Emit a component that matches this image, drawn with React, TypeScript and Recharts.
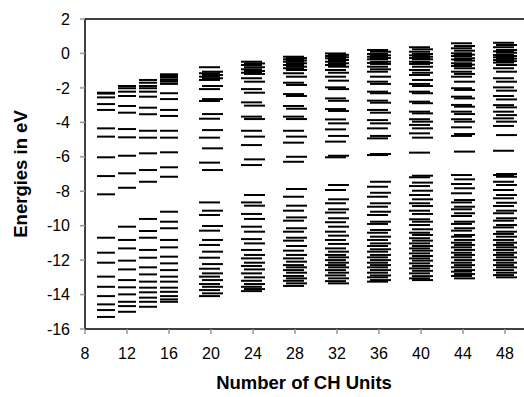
import { ScatterChart, Scatter, XAxis, YAxis, ReferenceLine, Label } from 'recharts';

// orbital energies (eV) per chain length
const levels10 = [-2.28, -2.33, -2.55, -2.94, -3.28, -4.35, -4.83, -6.03, -7.12, -8.18, -10.7, -11.57, -12.15, -12.96, -13.55, -14.09, -14.57, -14.9, -15.3];
const levels12 = [-1.89, -2.02, -2.22, -2.47, -3.05, -3.44, -4.39, -4.87, -5.94, -6.96, -7.8, -10.06, -10.83, -11.32, -12.03, -12.54, -13.16, -13.58, -13.99, -14.42, -14.67, -15.0];
const levels14 = [-1.54, -1.7, -1.89, -2.02, -2.22, -2.51, -3.15, -3.53, -4.49, -4.89, -5.8, -6.77, -7.45, -9.61, -10.31, -10.7, -11.41, -11.86, -12.42, -12.83, -13.25, -13.6, -13.87, -14.18, -14.42, -14.71];
const levels16 = [-1.21, -1.31, -1.41, -1.54, -1.64, -1.77, -2.31, -2.65, -3.28, -3.63, -4.49, -4.89, -5.74, -6.61, -7.16, -9.19, -9.77, -10.15, -10.83, -11.26, -11.8, -12.19, -12.58, -12.96, -13.25, -13.6, -13.84, -14.09, -14.28, -14.42];
const levels20 = [-0.8, -1.06, -1.15, -1.25, -1.35, -1.44, -1.54, -1.89, -2.07, -2.65, -2.76, -3.52, -3.79, -4.45, -4.89, -5.51, -6.34, -6.77, -8.65, -9.13, -9.38, -10.02, -10.29, -10.83, -11.12, -11.51, -11.86, -12.23, -12.5, -12.77, -12.96, -13.16, -13.39, -13.55, -13.74, -13.93, -14.09];
const levels24 = [-0.48, -0.58, -0.67, -0.8, -0.92, -1.02, -1.12, -1.19, -1.44, -1.64, -2.07, -2.28, -2.84, -3.03, -3.67, -3.81, -4.49, -4.83, -5.32, -6.15, -6.48, -8.22, -8.65, -8.84, -9.32, -9.61, -10.06, -10.35, -10.78, -11.03, -11.41, -11.7, -11.9, -12.15, -12.34, -12.54, -12.77, -13.0, -13.2, -13.39, -13.55, -13.68, -13.8];
const levels28 = [-0.19, -0.27, -0.34, -0.41, -0.48, -0.57, -0.67, -0.77, -0.86, -0.96, -1.15, -1.35, -1.7, -1.83, -2.36, -2.47, -3.05, -3.21, -3.67, -3.81, -4.49, -4.83, -5.18, -6.0, -6.29, -7.87, -8.32, -8.84, -9.13, -9.52, -9.71, -10.15, -10.35, -10.7, -10.87, -11.18, -11.45, -11.7, -11.9, -12.09, -12.29, -12.42, -12.58, -12.73, -12.92, -13.06, -13.2, -13.35, -13.5];
const levels32 = [0.0, -0.08, -0.15, -0.22, -0.28, -0.38, -0.48, -0.57, -0.67, -0.77, -0.96, -1.12, -1.35, -1.58, -1.97, -2.07, -2.61, -2.75, -3.23, -3.34, -3.83, -4.06, -4.41, -4.79, -5.12, -5.94, -6.03, -7.64, -7.93, -8.47, -8.7, -9.05, -9.24, -9.57, -9.8, -10.06, -10.35, -10.58, -10.83, -11.06, -11.32, -11.51, -11.7, -11.84, -12.0, -12.15, -12.29, -12.42, -12.58, -12.73, -12.89, -13.06, -13.22, -13.35];
const levels36 = [0.2, 0.1, -0.03, -0.11, -0.19, -0.27, -0.34, -0.48, -0.55, -0.61, -0.77, -0.92, -1.06, -1.35, -1.64, -1.77, -2.22, -2.31, -2.74, -2.86, -3.28, -3.44, -3.87, -4.06, -4.35, -4.79, -4.93, -5.84, -5.9, -7.45, -7.74, -8.09, -8.32, -8.7, -8.9, -9.19, -9.38, -9.77, -9.9, -10.25, -10.41, -10.64, -10.83, -11.03, -11.18, -11.37, -11.51, -11.7, -11.84, -12.0, -12.15, -12.29, -12.42, -12.58, -12.73, -12.89, -13.0, -13.16, -13.25];
const levels40 = [0.36, 0.24, 0.1, -0.03, -0.11, -0.19, -0.27, -0.34, -0.48, -0.55, -0.61, -0.77, -0.96, -1.12, -1.25, -1.54, -1.77, -1.89, -2.22, -2.31, -2.8, -2.89, -3.38, -3.48, -3.82, -3.96, -4.15, -4.35, -4.64, -4.89, -5.76, -7.1, -7.19, -7.5, -7.7, -7.97, -8.22, -8.47, -8.7, -8.86, -9.13, -9.32, -9.63, -9.77, -9.96, -10.21, -10.41, -10.54, -10.73, -10.87, -11.03, -11.18, -11.32, -11.45, -11.61, -11.76, -11.9, -12.03, -12.19, -12.34, -12.48, -12.62, -12.77, -12.93, -13.06, -13.16];
const levels44 = [0.59, 0.43, 0.3, 0.16, 0.01, -0.07, -0.15, -0.28, -0.35, -0.42, -0.57, -0.65, -0.73, -0.86, -1.06, -1.19, -1.35, -1.64, -2.02, -2.12, -2.51, -2.61, -2.99, -3.09, -3.38, -3.52, -3.82, -3.96, -4.29, -4.68, -4.79, -5.7, -7.06, -7.31, -7.58, -7.83, -8.12, -8.51, -8.65, -8.9, -9.05, -9.28, -9.44, -9.77, -9.9, -10.15, -10.29, -10.54, -10.64, -10.83, -10.99, -11.12, -11.26, -11.41, -11.57, -11.7, -11.84, -12.0, -12.15, -12.29, -12.42, -12.58, -12.67, -12.81, -12.92, -13.06];
const levels48 = [0.62, 0.49, 0.36, 0.2, 0.12, 0.04, -0.09, -0.15, -0.22, -0.3, -0.38, -0.45, -0.53, -0.67, -0.86, -1.06, -1.44, -1.64, -1.97, -2.16, -2.47, -2.67, -3.0, -3.13, -3.38, -3.58, -3.77, -3.96, -4.21, -4.74, -5.65, -7.0, -7.06, -7.16, -7.45, -7.64, -7.93, -8.22, -8.41, -8.67, -8.86, -9.13, -9.28, -9.57, -9.71, -9.96, -10.1, -10.35, -10.48, -10.64, -10.83, -10.99, -11.12, -11.26, -11.41, -11.57, -11.7, -11.84, -12.0, -12.15, -12.29, -12.42, -12.58, -12.73, -12.87, -13.0];

const chainLengths = [10, 12, 14, 16, 20, 24, 28, 32, 36, 40, 44, 48];
const allLevels = [levels10, levels12, levels14, levels16, levels20, levels24, levels28, levels32, levels36, levels40, levels44, levels48];

const xTicks = [8, 12, 16, 20, 24, 28, 32, 36, 40, 44, 48];
const yTicks = [-16, -14, -12, -10, -8, -6, -4, -2, 0, 2];

const points = chainLengths.flatMap((n, i) =>
  allLevels[i].map((e, j) => ({ n, e, k: j }))
);

const FONT = '"Liberation Sans", Arial, sans-serif';

function Dash(props: any) {
  const { cx, cy, payload } = props;
  const half = payload.n >= 20 ? 10.5 : 9;
  const shift = payload.n >= 20 ? (payload.k % 2 === 0 ? -1.5 : 1.5) : 0;
  return (
    <line x1={cx - half + shift} x2={cx + half + shift} y1={cy} y2={cy} stroke="#000" strokeWidth={2} />
  );
}

export default function App() {
  return (
    <div style={{ position: 'absolute', left: 0, top: 0, width: 524, height: 397, overflow: 'hidden', background: '#fff' }}>
      <ScatterChart width={552} height={397} margin={{ top: 19, right: 5, bottom: 0, left: 0 }}>
        <XAxis
          type="number"
          dataKey="n"
          domain={[8, 52]}
          ticks={xTicks}
          interval={0}
          height={68}
          tickSize={5}
          tickMargin={14}
          stroke="#000"
          strokeWidth={1.5}
          tickLine={{ stroke: '#999' }}
          tick={{ fill: '#000', fontSize: 16, fontFamily: FONT }}
        >
          <Label value="Number of CH Units" position="insideBottom" offset={8} dx={-12} style={{ fontSize: 18.5, fontWeight: 'bold', fontFamily: FONT, fill: '#000' }} />
        </XAxis>
        <YAxis
          type="number"
          dataKey="e"
          domain={[-16, 2]}
          ticks={yTicks}
          interval={0}
          width={85}
          tickSize={5}
          tickMargin={10}
          stroke="#000"
          strokeWidth={1.5}
          tickLine={{ stroke: '#999' }}
          tick={{ fill: '#000', fontSize: 16, fontFamily: FONT }}
        >
          <Label value="Energies in eV" angle={-90} position="insideLeft" offset={20} style={{ textAnchor: 'middle', fontSize: 18.5, fontWeight: 'bold', fontFamily: FONT, fill: '#000' }} />
        </YAxis>
        <ReferenceLine y={2} stroke="#000" strokeWidth={1.5} />
        <Scatter data={points} shape={<Dash />} isAnimationActive={false} />
      </ScatterChart>
    </div>
  );
}
